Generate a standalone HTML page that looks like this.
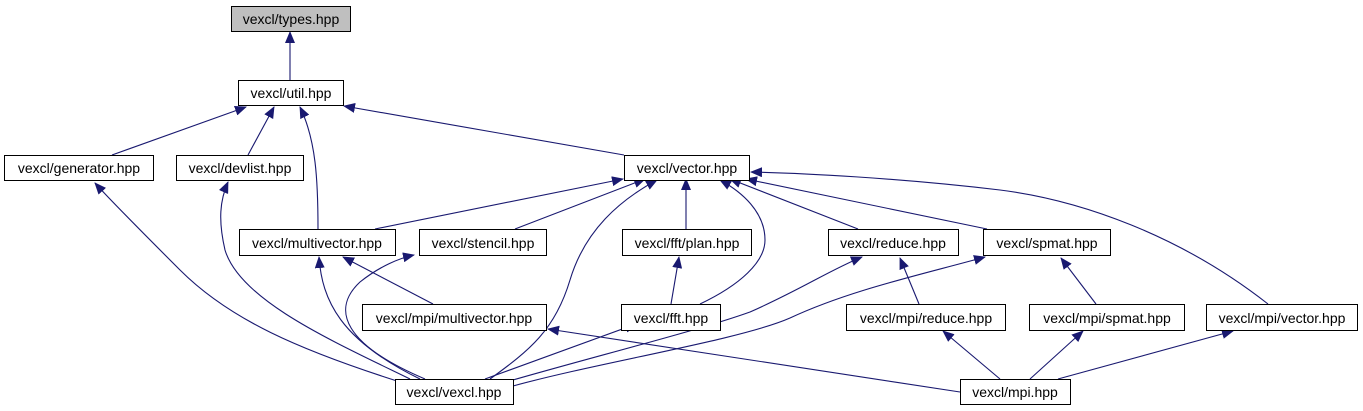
<!DOCTYPE html>
<html><head><meta charset="utf-8"><style>
html,body{margin:0;padding:0;background:#fff;}
svg{display:block;}
text{font-family:"Liberation Sans",sans-serif;font-size:14px;fill:#000;}
</style></head><body>
<svg width="1363" height="411" xmlns="http://www.w3.org/2000/svg">
<defs><marker id="a" markerWidth="12" markerHeight="10" refX="11" refY="5" orient="auto" markerUnits="userSpaceOnUse"><path d="M0,0 L12,5 L0,10 z" fill="#191970"/></marker></defs>
<g fill="none" stroke="#191970" stroke-width="1.1" marker-end="url(#a)">
<path d="M290,80 L290,32"/>
<path d="M112,155 L246,107"/>
<path d="M248,155 L274,107"/>
<path d="M318,229 C318,180 316,140 300,107"/>
<path d="M624,155 L344,106"/>
<path d="M375,229 L623,179"/>
<path d="M515,229 L645,179"/>
<path d="M490,379 C530,350 555,330 570,280 C585,230 620,200 657,180"/>
<path d="M686,229 L686,179"/>
<path d="M700,304 C740,285 765,262 765,240 C765,212 742,192 720,180"/>
<path d="M858,229 L730,179"/>
<path d="M987,229 L746,179"/>
<path d="M1268,304 C1180,235 1080,200 1000,190 C900,178 800,173 751,172"/>
<path d="M397,381 C300,350 230,320 180,270 C140,230 110,200 95,183"/>
<path d="M410,379 C330,340 240,300 225,250 C218,220 220,200 228,182"/>
<path d="M420,379 C340,340 322,300 319,257"/>
<path d="M433,304 L343,257"/>
<path d="M425,379 C345,345 330,310 360,282 C380,266 400,258 414,255"/>
<path d="M671,304 L679,257"/>
<path d="M485,379 L636,324"/>
<path d="M960,392 L548,329"/>
<path d="M513,380 C600,355 700,330 750,312 C800,290 830,270 862,257"/>
<path d="M513,386 C600,362 740,340 790,318 C850,290 920,275 985,257"/>
<path d="M919,304 L900,258"/>
<path d="M1096,304 L1061,258"/>
<path d="M1000,379 L943,331"/>
<path d="M1030,379 L1083,331"/>
<path d="M1058,379 L1233,331"/>
</g>
<g stroke="#000" stroke-width="1">
<rect x="231.5" y="6.5" width="119" height="25" fill="#bfbfbf"/>
<rect x="238.5" y="80.5" width="105" height="25" fill="#fff"/>
<rect x="4.5" y="155.5" width="149" height="25" fill="#fff"/>
<rect x="176.5" y="155.5" width="127" height="25" fill="#fff"/>
<rect x="624.5" y="155.5" width="125" height="25" fill="#fff"/>
<rect x="239.5" y="229.5" width="156" height="26" fill="#fff"/>
<rect x="419.5" y="229.5" width="127" height="26" fill="#fff"/>
<rect x="622.5" y="229.5" width="129" height="26" fill="#fff"/>
<rect x="828.5" y="229.5" width="130" height="26" fill="#fff"/>
<rect x="983.5" y="229.5" width="127" height="26" fill="#fff"/>
<rect x="362.5" y="304.5" width="184" height="26" fill="#fff"/>
<rect x="621.5" y="304.5" width="99" height="26" fill="#fff"/>
<rect x="846.5" y="304.5" width="159" height="26" fill="#fff"/>
<rect x="1029.5" y="304.5" width="155" height="26" fill="#fff"/>
<rect x="1206.5" y="304.5" width="151" height="26" fill="#fff"/>
<rect x="395.5" y="379.5" width="118" height="25" fill="#fff"/>
<rect x="960.5" y="379.5" width="110" height="25" fill="#fff"/>
</g>
<g text-anchor="middle">
<text x="291" y="24">vexcl/types.hpp</text>
<text x="291" y="98">vexcl/util.hpp</text>
<text x="79" y="173">vexcl/generator.hpp</text>
<text x="240" y="173">vexcl/devlist.hpp</text>
<text x="687" y="173">vexcl/vector.hpp</text>
<text x="317" y="248">vexcl/multivector.hpp</text>
<text x="483" y="248">vexcl/stencil.hpp</text>
<text x="687" y="248">vexcl/fft/plan.hpp</text>
<text x="893" y="248">vexcl/reduce.hpp</text>
<text x="1047" y="248">vexcl/spmat.hpp</text>
<text x="454" y="323">vexcl/mpi/multivector.hpp</text>
<text x="671" y="323">vexcl/fft.hpp</text>
<text x="926" y="323">vexcl/mpi/reduce.hpp</text>
<text x="1107" y="323">vexcl/mpi/spmat.hpp</text>
<text x="1282" y="323">vexcl/mpi/vector.hpp</text>
<text x="454" y="397">vexcl/vexcl.hpp</text>
<text x="1015" y="397">vexcl/mpi.hpp</text>
</g>
</svg>
</body></html>
